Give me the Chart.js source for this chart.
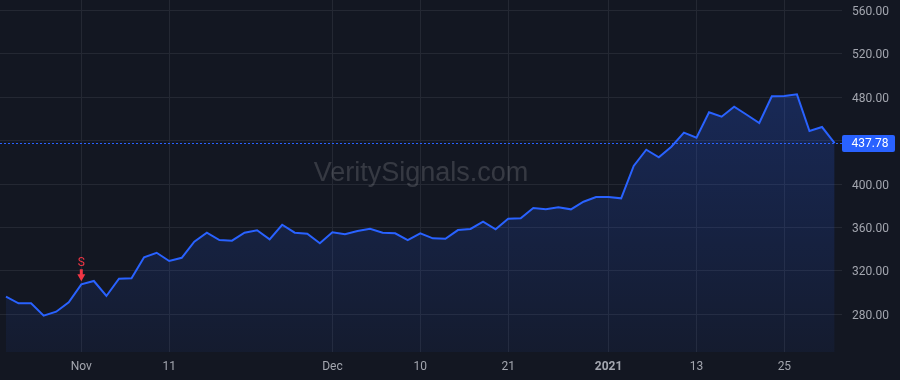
<!DOCTYPE html>
<html>
<head>
<meta charset="utf-8">
<script src="https://cdn.jsdelivr.net/npm/chart.js@4/dist/chart.umd.min.js"></script>
<style>
  html, body { margin: 0; padding: 0; background: #131722; }
  #wrap { width: 900px; height: 380px; }
</style>
</head>
<body>
<div id="wrap"><canvas id="c" width="900" height="380"></canvas></div>
<script>
// ---- data ----
const categories = [
  '2020-10-23','2020-10-26','2020-10-27','2020-10-28','2020-10-29','2020-10-30',
  '2020-11-02','2020-11-03','2020-11-04','2020-11-05','2020-11-06','2020-11-09',
  '2020-11-10','2020-11-11','2020-11-12','2020-11-13','2020-11-16','2020-11-17',
  '2020-11-18','2020-11-19','2020-11-20','2020-11-23','2020-11-24','2020-11-25',
  '2020-11-27','2020-11-30','2020-12-01','2020-12-02','2020-12-03','2020-12-04',
  '2020-12-07','2020-12-08','2020-12-09','2020-12-10','2020-12-11','2020-12-14',
  '2020-12-15','2020-12-16','2020-12-17','2020-12-18','2020-12-21','2020-12-22',
  '2020-12-23','2020-12-24','2020-12-28','2020-12-29','2020-12-30','2020-12-31',
  '2021-01-04','2021-01-05','2021-01-06','2021-01-07','2021-01-08','2021-01-11',
  '2021-01-12','2021-01-13','2021-01-14','2021-01-15','2021-01-19','2021-01-20',
  '2021-01-21','2021-01-22','2021-01-25','2021-01-26','2021-01-27','2021-01-28',
  '2021-01-29'
];
const closeValues = [
  296.2, 290.1, 290.1, 278.7, 282.4, 291.1, 307.6, 310.7, 296.9, 312.8,
  313.2, 332.5, 336.7, 329.1, 332.1, 346.9, 355.2, 348.4, 347.8, 355.2,
  357.4, 349.1, 362.5, 355.2, 354.2, 345.4, 355.5, 353.7, 356.7, 358.8,
  355.2, 354.6, 348.4, 354.6, 350.0, 349.6, 357.6, 358.6, 365.3, 358.3,
  368.1, 368.5, 377.9, 376.7, 378.6, 376.7, 383.7, 388.0, 388.1, 386.8,
  416.6, 431.6, 424.6, 434.4, 447.3, 442.7, 466.1, 462.0, 471.2, 463.8,
  456.2, 480.8, 481.1, 482.6, 448.8, 452.5, 437.78
];
const xTickDates  = ['2020-11-02','2020-11-11','2020-12-01','2020-12-10','2020-12-21','2021-01-04','2021-01-13','2021-01-25'];
const xTickLabels = ['Nov','11','Dec','10','21','2021','13','25'];
const xTickBold   = ['2021'];
const yTickValues = [280, 320, 360, 400, 440, 480, 520, 560];
const yTickShown  = [280, 320, 360, 400, 480, 520, 560];
const signalDates  = ['2020-11-02'];
const signalLabels = ['S'];
const lastPrice = closeValues[closeValues.length - 1];
const watermarkText = 'VeritySignals.com';

// ---- styles ----
const BG = '#131722';
const GRID = '#242833';
const TXT = '#a3a6af';
const BLUE = '#2962ff';
const RED = '#f23645';
const FONT = 'Roboto, "Liberation Sans", sans-serif';

const points = closeValues.map((v, i) => ({ x: i, y: v }));
const tickIdx = xTickDates.map(d => categories.indexOf(d));

const bgPlugin = {
  id: 'bg',
  beforeDraw(chart) {
    const ctx = chart.ctx;
    ctx.save();
    ctx.fillStyle = BG;
    ctx.fillRect(0, 0, chart.width, chart.height);
    ctx.restore();
  },
  beforeDatasetsDraw(chart) {
    const ctx = chart.ctx, a = chart.chartArea;
    ctx.save();
    ctx.font = '27px "Liberation Sans", Arial, sans-serif';
    ctx.fillStyle = 'rgba(255,255,255,0.15)';
    ctx.textAlign = 'center';
    ctx.textBaseline = 'alphabetic';
    ctx.fillText(watermarkText, (a.left + a.right) / 2, 181);
    ctx.restore();
  },
  afterDatasetsDraw(chart) {
    const ctx = chart.ctx, a = chart.chartArea;
    const xs = chart.scales.x, ys = chart.scales.y;
    // last price dotted line
    const py = Math.round(ys.getPixelForValue(lastPrice)) + 0.5;
    ctx.save();
    ctx.strokeStyle = BLUE;
    ctx.lineWidth = 1;
    ctx.setLineDash([2, 2]);
    ctx.beginPath();
    ctx.moveTo(a.left, py);
    ctx.lineTo(a.right, py);
    ctx.stroke();
    ctx.restore();
    // signals
    signalDates.forEach((d, k) => {
      const i = categories.indexOf(d);
      const px = xs.getPixelForValue(i);
      const vy = ys.getPixelForValue(closeValues[i]);
      const tip = vy - 3;
      ctx.save();
      ctx.fillStyle = RED;
      ctx.beginPath();
      ctx.moveTo(px - 1.5, tip - 12);
      ctx.lineTo(px + 1.5, tip - 12);
      ctx.lineTo(px + 1.5, tip - 7);
      ctx.lineTo(px + 4, tip - 7);
      ctx.lineTo(px, tip);
      ctx.lineTo(px - 4, tip - 7);
      ctx.lineTo(px - 1.5, tip - 7);
      ctx.closePath();
      ctx.fill();
      ctx.font = '12px ' + FONT;
      ctx.textAlign = 'center';
      ctx.textBaseline = 'alphabetic';
      ctx.fillText(signalLabels[k], px, tip - 15.5);
      ctx.restore();
    });
  },
  afterDraw(chart) {
    const ctx = chart.ctx, a = chart.chartArea;
    const ys = chart.scales.y;
    const py = ys.getPixelForValue(lastPrice);
    ctx.save();
    ctx.fillStyle = BLUE;
    const x0 = a.right, w = 53, h = 17, y0 = Math.round(py) - 8;
    ctx.beginPath();
    if (ctx.roundRect) ctx.roundRect(x0, y0, w, h, 2); else ctx.rect(x0, y0, w, h);
    ctx.fill();
    ctx.fillStyle = '#ffffff';
    ctx.font = '12px ' + FONT;
    ctx.textAlign = 'left';
    ctx.textBaseline = 'middle';
    ctx.fillText(lastPrice.toFixed(2), x0 + 9.5, y0 + h / 2 + 0.5);
    ctx.restore();
  }
};

new Chart(document.getElementById('c'), {
  type: 'line',
  data: {
    datasets: [{
      data: points,
      borderColor: BLUE,
      borderWidth: 2,
      pointRadius: 0,
      tension: 0,
      fill: 'start',
      backgroundColor(context) {
        const chart = context.chart;
        const a = chart.chartArea;
        if (!a) return 'rgba(41,98,255,0.15)';
        const g = chart.ctx.createLinearGradient(0, a.top, 0, a.bottom);
        g.addColorStop(0, 'rgba(41,98,255,0.30)');
        g.addColorStop(1, 'rgba(41,98,255,0.06)');
        return g;
      }
    }]
  },
  options: {
    responsive: false,
    animation: false,
    devicePixelRatio: 1,
    layout: { padding: 0 },
    plugins: { legend: { display: false }, tooltip: { enabled: false } },
    scales: {
      x: {
        type: 'linear',
        min: -0.476,
        max: 66.59,
        afterBuildTicks(scale) { scale.ticks = tickIdx.map(v => ({ value: v })); },
        afterFit(scale) {
          scale.height = 28;
          scale.paddingLeft = 0; scale.paddingRight = 0;
          scale.paddingTop = 0; scale.paddingBottom = 0;
        },
        grid: { color: GRID, drawTicks: false },
        border: { display: false },
        ticks: {
          autoSkip: false,
          maxRotation: 0,
          padding: 8,
          color: TXT,
          font(ctx) {
            const lbl = ctx.tick ? xTickLabels[tickIdx.indexOf(ctx.tick.value)] : '';
            return { family: FONT, size: 12, weight: xTickBold.includes(lbl) ? 'bold' : 'normal' };
          },
          callback(value) { return xTickLabels[tickIdx.indexOf(value)]; }
        }
      },
      y: {
        type: 'linear',
        position: 'right',
        min: 245.3,
        max: 569.5,
        afterBuildTicks(scale) { scale.ticks = yTickValues.map(v => ({ value: v })); },
        afterFit(scale) {
          scale.width = 58;
          scale.paddingLeft = 0; scale.paddingRight = 0;
          scale.paddingTop = 0; scale.paddingBottom = 0;
        },
        grid: { color: GRID, drawTicks: false },
        border: { display: false },
        ticks: {
          padding: 10,
          labelOffset: 1.5,
          color: TXT,
          font: { family: FONT, size: 12 },
          callback(value) { return yTickShown.includes(value) ? value.toFixed(2) : ''; }
        }
      }
    }
  },
  plugins: [bgPlugin]
});
</script>
</body>
</html>
